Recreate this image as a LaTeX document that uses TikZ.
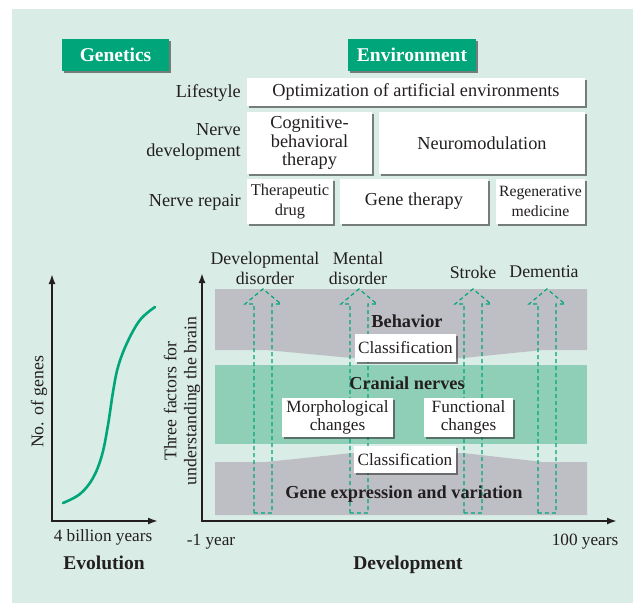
\documentclass[tikz,border=0pt]{standalone}
\usepackage{fontspec}
\setmainfont{Liberation Serif}
\usetikzlibrary{arrows.meta,shadows}

\definecolor{panel}{RGB}{217,236,229}
\definecolor{genegreen}{RGB}{0,166,122}
\definecolor{bandgray}{RGB}{190,191,196}
\definecolor{nervegreen}{RGB}{143,207,184}
\definecolor{ink}{RGB}{35,31,32}

\tikzset{
  txt/.style={text=ink, inner sep=0pt, align=center, font=\fontsize{18.3}{18.5}\selectfont},
  boxshadow/.style={drop shadow={shadow xshift=1.6pt, shadow yshift=-1.6pt, fill=black!80, opacity=.6}},
  headbox/.style={fill=genegreen, text=white, inner sep=0pt, boxshadow, font=\fontsize{19.5}{20}\selectfont\bfseries},
  whitebox/.style={txt, fill=white, boxshadow},
  rowlabel/.style={txt, anchor=east, align=right},
  bandlabel/.style={txt, font=\fontsize{18.3}{20}\selectfont\bfseries},
  axislabel/.style={txt, font=\fontsize{19.5}{20}\selectfont\bfseries},
  axis/.style={ink, line width=1.8pt, {Latex[length=10pt,width=7pt]}-{Latex[length=10pt,width=7pt]}},
  hollow/.style={genegreen, line width=1.2pt, dash pattern=on 4pt off 3pt}
}

\begin{document}
\begin{tikzpicture}[x=1pt,y=-1pt]
  % background
  \useasboundingbox (0,0) rectangle (633,603);
  \fill[panel] (12,9) rectangle (633,603);

  % headings
  \node[headbox, minimum width=107pt, minimum height=32pt] (genetics) at (115.5,55) {Genetics};
  \node[headbox, minimum width=128pt, minimum height=32pt] (environment) at (412,55) {Environment};

  % table of therapies
  \node[whitebox, minimum width=338pt, minimum height=28pt] (optim) at (416,92) {Optimization of artificial environments};
  \node[whitebox, minimum width=125pt, minimum height=62pt] (cbt) at (309.5,143) {Cognitive-\\behavioral\\therapy};
  \node[whitebox, minimum width=206pt, minimum height=62pt] (neuromod) at (482,143) {Neuromodulation};
  \node[whitebox, minimum width=86pt, minimum height=45pt, font=\fontsize{16.4}{19.5}\selectfont] (drug) at (290,201.5) {Therapeutic\\drug};
  \node[whitebox, minimum width=148pt, minimum height=45pt] (genether) at (414,201.5) {Gene therapy};
  \node[whitebox, minimum width=89pt, minimum height=45pt, font=\fontsize{15.7}{19.5}\selectfont] (regen) at (540.5,201.5) {Regenerative\\medicine};

  \node[rowlabel] (lifestyle) at (241,93) {Lifestyle};
  \node[rowlabel, font=\fontsize{18.3}{20.5}\selectfont] (nervedev) at (241,142) {Nerve\\development};
  \node[rowlabel] (nerverep) at (241,202) {Nerve repair};

  % bands
  \fill[bandgray] (215,289) -- (587,289) -- (587,350) -- (543,350) -- (463,358) -- (352,358) -- (266,350) -- (215,350) -- cycle;
  \fill[nervegreen] (215,365) rectangle (587,444);
  \fill[bandgray] (215,515) -- (587,515) -- (587,462) -- (543,462) -- (463,453) -- (352,453) -- (266,462) -- (215,462) -- cycle;

  % dashed arrows
  \foreach \cx in {263,359,473,547}
    \draw[hollow] (\cx-9,513) -- (\cx-9,304) -- (\cx-18,304) -- (\cx,289) -- (\cx+18,304) -- (\cx+9,304) -- (\cx+9,513) -- cycle;

  \node[txt, font=\fontsize{17.8}{20}\selectfont] (devdis) at (265,268) {Developmental\\disorder};
  \node[txt, font=\fontsize{17.8}{20}\selectfont] (mentdis) at (358,268) {Mental\\disorder};
  \node[txt, font=\fontsize{17.8}{20}\selectfont] (stroke) at (473,272) {Stroke};
  \node[txt, font=\fontsize{17.8}{20}\selectfont] (dementia) at (544,272) {Dementia};

  % band contents
  \node[bandlabel] (behavior) at (407,321) {Behavior};
  \node[bandlabel] (cranial) at (407,383) {Cranial nerves};
  \node[bandlabel] (geneexp) at (404,494) {Gene expression and variation};
  \node[whitebox, minimum width=101pt, minimum height=28pt, font=\fontsize{17.2}{18.5}\selectfont] (classtop) at (405.5,348) {Classification};
  \node[whitebox, minimum width=102pt, minimum height=27pt, font=\fontsize{17.2}{18.5}\selectfont] (classbot) at (405,459.5) {Classification};
  \node[whitebox, minimum width=111pt, minimum height=39pt, font=\fontsize{17.2}{18.5}\selectfont] (morph) at (337.5,417.5) {Morphological\\changes};
  \node[whitebox, minimum width=89pt, minimum height=39pt, font=\fontsize{17.2}{18.5}\selectfont] (func) at (468.5,417.5) {Functional\\changes};

  % development axis
  \draw[axis] (202,273) -- (202,521) -- (617,521);
  \node[txt, rotate=90, font=\fontsize{17.8}{20}\selectfont] (threefac) at (182,401) {Three factors for\\understanding the brain};
  \node[txt, font=\fontsize{17.2}{18}\selectfont] (minusone) at (211,542) {-1 year};
  \node[txt, font=\fontsize{17.2}{18}\selectfont] (hundred) at (585,542) {100 years};
  \node[axislabel] (devel) at (408,565) {Development};

  % evolution axis
  \draw[axis] (52,274) -- (52,521) -- (158,521);
  \draw[genegreen, line width=2.6pt, line cap=round] plot[smooth, tension=0.6] coordinates {(63,503) (80,494) (93,478) (102,455) (108,425) (113,392) (118,367) (127,343) (140,320) (155,307)};
  \node[txt, rotate=90, font=\fontsize{17.8}{20}\selectfont] (nogenes) at (39,402) {No. of genes};
  \node[txt, font=\fontsize{17.2}{18}\selectfont] (billion) at (103,537) {4 billion years};
  \node[axislabel] (evol) at (104,563) {Evolution};
\end{tikzpicture}
\end{document}
